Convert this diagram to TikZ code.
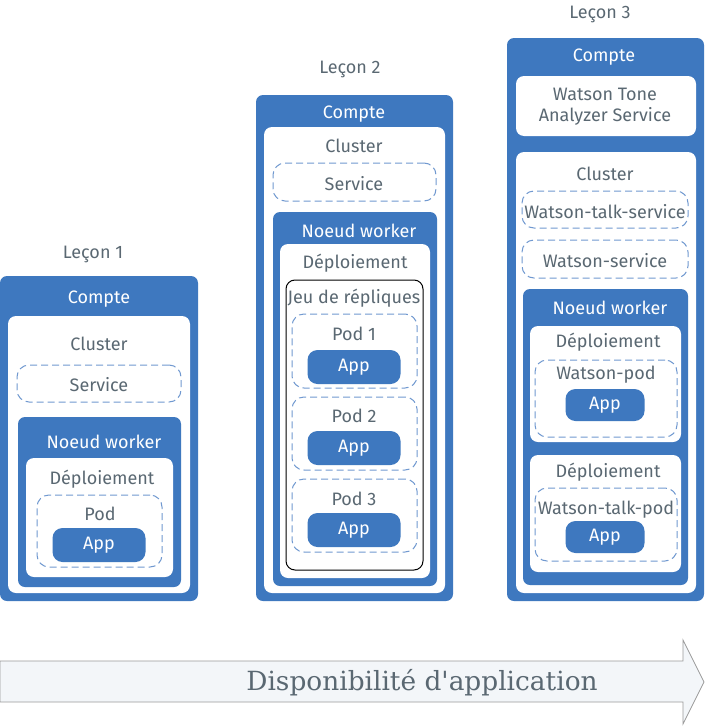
\documentclass[tikz,border=0pt]{standalone}
\usepackage{fontspec}
\setmainfont{Fira Sans}
\newfontfamily\dispserif{DejaVu Serif}
\definecolor{ibmblue}{HTML}{3E78BF}
\definecolor{ibmgray}{HTML}{5A6872}
\definecolor{dashblue}{HTML}{7199D0}
\definecolor{arrowfill}{HTML}{F3F6F9}
\definecolor{arrowline}{HTML}{9A9A9A}
\newcommand\bx[6]{\node[#2, minimum width={#5-#3}, minimum height={#6-#4}] (#1) at ({(#3+#5)/2},{(#4+#6)/2}) {};}
\begin{document}
\begin{tikzpicture}[x=1pt,y=-1pt,
  box/.style={inner sep=0pt, outer sep=0pt, anchor=center},
  bluebox/.style={box, fill=ibmblue, rounded corners=7pt},
  whitebox/.style={box, fill=white, rounded corners=8pt},
  dashbox/.style={box, draw=dashblue, dash pattern=on 7pt off 4pt, line width=1pt, rounded corners=12pt},
  repbox/.style={box, draw=black, line width=1pt, rounded corners=9pt},
  appbox/.style={box, fill=ibmblue, rounded corners=10pt, text=white, font=\fontsize{18}{21}\selectfont},
  txt/.style={inner sep=0pt, text=ibmgray, font=\fontsize{18}{21}\selectfont, align=center, yshift=-2pt},
  wtxt/.style={inner sep=0pt, text=white, font=\fontsize{18}{21}\selectfont, yshift=-2pt}
]
\useasboundingbox (0,0) rectangle (705,726);

% ---------- Lecon 1 ----------
\node[txt] (t1) at (93,252) {Leçon 1};
\bx{a1}{bluebox}{0}{276}{198}{601}
\node[wtxt] (a1t) at (99,297) {Compte};
\bx{c1}{whitebox}{8}{316}{190}{593}
\node[txt] (c1t) at (99,342) {Cluster};
\bx{s1}{dashbox}{17}{365}{181}{402}
\node[txt] (s1t) at (99,383) {Service};
\bx{w1}{bluebox}{18}{417}{181}{587}
\node[wtxt] (w1t) at (104,440) {Noeud worker};
\bx{d1}{whitebox}{26}{458}{173}{577}
\node[txt] (d1t) at (102,477) {Déploiement};
\bx{p1}{dashbox}{37}{495}{162}{567}
\node[txt] (p1t) at (100,512) {Pod};
\node[appbox, minimum width=93, minimum height=34] (ap1) at (99,545) {App};

% ---------- Lecon 2 ----------
\node[txt] (t2) at (350,67) {Leçon 2};
\bx{a2}{bluebox}{256}{95}{453}{601}
\node[wtxt] (a2t) at (354,112) {Compte};
\bx{c2}{whitebox}{264}{127}{445}{593}
\node[txt] (c2t) at (354,144) {Cluster};
\bx{s2}{dashbox}{273}{163}{436}{201}
\node[txt] (s2t) at (354,182) {Service};
\bx{w2}{bluebox}{273}{212}{437}{586}
\node[wtxt] (w2t) at (359,229) {Noeud worker};
\bx{d2}{whitebox}{280}{244}{430}{578}
\node[txt] (d2t) at (355,261) {Déploiement};
\bx{r2}{repbox}{286}{280}{423}{570}
\node[txt] (r2t) at (354,296) {Jeu de répliques};
\bx{p21}{dashbox}{292}{314}{417}{388}
\node[txt] (p21t) at (354,332) {Pod 1};
\node[appbox, minimum width=93, minimum height=34] (ap21) at (354,367) {App};
\bx{p22}{dashbox}{292}{397}{417}{470}
\node[txt] (p22t) at (354,414) {Pod 2};
\node[appbox, minimum width=93, minimum height=34] (ap22) at (354,448) {App};
\bx{p23}{dashbox}{292}{479}{417}{552}
\node[txt] (p23t) at (354,497) {Pod 3};
\node[appbox, minimum width=93, minimum height=34] (ap23) at (354,530) {App};

% ---------- Lecon 3 ----------
\node[txt] (t3) at (600,12) {Leçon 3};
\bx{a3}{bluebox}{507}{38}{704}{601}
\node[wtxt] (a3t) at (604,55) {Compte};
\bx{tone}{whitebox}{516}{76}{696}{136}
\node[txt] (tonet) at (605,105) {Watson Tone\\Analyzer Service};
\bx{c3}{whitebox}{516}{152}{696}{593}
\node[txt] (c3t) at (605,172) {Cluster};
\bx{s31}{dashbox}{522}{191}{688}{228}
\node[txt] (s31t) at (605,210) {Watson-talk-service};
\bx{s32}{dashbox}{522}{240}{688}{278}
\node[txt] (s32t) at (605,259) {Watson-service};
\bx{w3}{bluebox}{523}{289}{688}{585}
\node[wtxt] (w3t) at (610,306) {Noeud worker};
\bx{d31}{whitebox}{530}{326}{681}{442}
\node[txt] (d31t) at (608,340) {Déploiement};
\bx{p31}{dashbox}{535}{360}{677}{437}
\node[txt] (p31t) at (606,373) {Watson-pod};
\node[appbox, minimum width=79, minimum height=32] (ap31) at (605,405) {App};
\bx{d32}{whitebox}{530}{455}{681}{572}
\node[txt] (d32t) at (608,470) {Déploiement};
\bx{p32}{dashbox}{535}{488}{677}{561}
\node[txt] (p32t) at (606,508) {Watson-talk-pod};
\node[appbox, minimum width=79, minimum height=32] (ap32) at (605,537) {App};

% ---------- Arrow ----------
\draw[fill=arrowfill, draw=arrowline, line width=0.8pt]
  (0,661) -- (683,661) -- (683,640) -- (704,682) -- (683,724) -- (683,702) -- (0,702) -- cycle;
\node[inner sep=0pt, anchor=base, text=ibmgray, font=\dispserif\fontsize{26.4}{30}\selectfont] (arrt) at (422,690) {Disponibilité d'application};
\end{tikzpicture}
\end{document}
